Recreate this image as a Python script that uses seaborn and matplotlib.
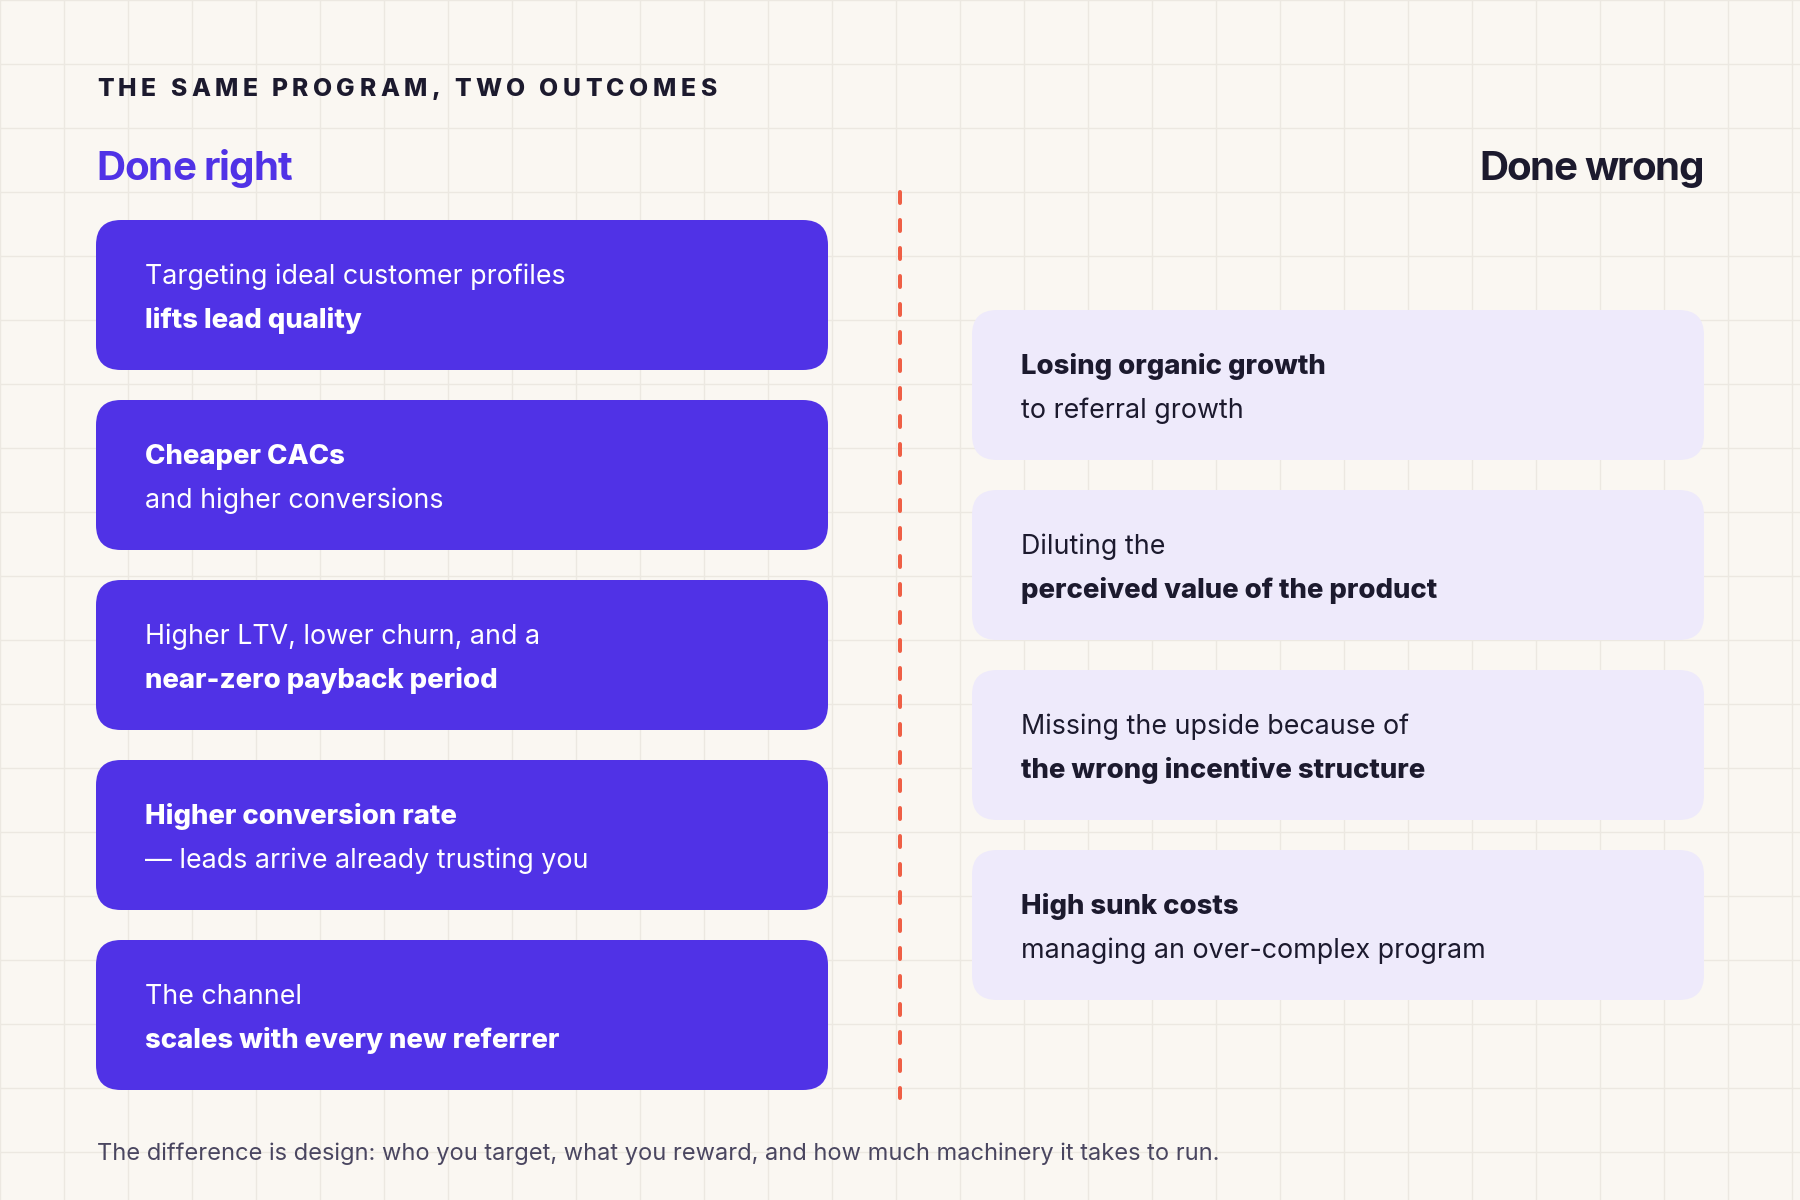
import numpy as np
import matplotlib
matplotlib.use("Agg")
import matplotlib.pyplot as plt
from matplotlib.patches import FancyBboxPatch
import seaborn as sns

# Conteúdo do quadro
titulo = "THE SAME PROGRAM, TWO OUTCOMES"
cab_esq = "Done right"
cab_dir = "Done wrong"
rodape = ("The difference is design: who you target, what you reward, "
          "and how much machinery it takes to run.")

# (linha 1, linha 2, qual linha em negrito)
certo_l1 = ["Targeting ideal customer profiles", "Cheaper CACs",
            "Higher LTV, lower churn, and a", "Higher conversion rate",
            "The channel"]
certo_l2 = ["lifts lead quality", "and higher conversions",
            "near-zero payback period", "\u2014 leads arrive already trusting you",
            "scales with every new referrer"]
certo_negrito = [2, 1, 2, 1, 2]

errado_l1 = ["Losing organic growth", "Diluting the",
             "Missing the upside because of", "High sunk costs"]
errado_l2 = ["to referral growth", "perceived value of the product",
             "the wrong incentive structure", "managing an over-complex program"]
errado_negrito = [1, 2, 2, 1]

# Cores
FUNDO = "#FAF7F2"
GRADE = "#ECE8E1"
ROXO = "#5032E6"
LILAS = "#EEEAFB"
ESCURO = "#1C1A2E"
CINZA = "#4A4660"
LARANJA = "#EF5F45"

sns.set_theme(style="whitegrid", rc={
    "axes.facecolor": FUNDO, "figure.facecolor": FUNDO,
    "grid.color": GRADE, "grid.linewidth": 1.0,
})
plt.rcParams["font.family"] = ["Inter", "DejaVu Sans"]

fig = plt.figure(figsize=(18, 12), dpi=100)
ax = fig.add_axes([0, 0, 1, 1])
ax.set_xlim(0, 1800)
ax.set_ylim(1200, 0)
ax.set_xticks(np.arange(0, 1801, 64))
ax.set_yticks(np.arange(0, 1201, 64))
ax.set_xticklabels([])
ax.set_yticklabels([])
ax.tick_params(length=0)
for s in ax.spines.values():
    s.set_visible(False)
ax.set_axisbelow(True)

renderer = fig.canvas.get_renderer()


def largura(s, **kw):
    t = ax.text(0, 0, s, **kw)
    w = t.get_window_extent(renderer).width
    t.remove()
    return w


def texto_espacado(x, y, s, largura_total, ha="left", **kw):
    # matplotlib não tem letter-spacing: posiciona letra a letra
    ref = largura("H", **kw)
    natural = largura(s, **kw)
    track = (largura_total - natural) / (len(s) - 1)
    if ha == "right":
        x = x - largura_total
    for i, ch in enumerate(s):
        w = largura(s[:i] + "H", **kw) - ref if i > 0 else 0
        ax.text(x + w + i * track, y, ch, ha="left", **kw)


# Título e cabeçalhos
texto_espacado(97, 95.5, titulo, 619, fontsize=17.8, fontweight="heavy",
               color=ESCURO, va="baseline")
texto_espacado(96, 180, cab_esq, 196, fontsize=29, fontweight="bold",
               color=ROXO, va="baseline")
texto_espacado(1704, 180, cab_dir, 225, ha="right", fontsize=29,
               fontweight="bold", color=ESCURO, va="baseline")

# Layout das caixas
LARG, ALT, PASSO, RAIO = 732, 150, 180, 25


def caixas(x0, y0, l1, l2, negrito, cor_caixa, cor_texto):
    for i, (a, b, n) in enumerate(zip(l1, l2, negrito)):
        top = y0 + i * PASSO
        ax.add_patch(FancyBboxPatch(
            (x0, top), LARG, ALT,
            boxstyle=f"round,pad=0,rounding_size={RAIO}",
            facecolor=cor_caixa, edgecolor="none", zorder=2))
        for j, linha in enumerate([a, b]):
            if n == j + 1:
                peso, tam = "heavy", 19.8
            else:
                peso, tam = "normal", 19.3
            ax.text(x0 + 49, top + 64 + j * 44, linha, fontsize=tam,
                    fontweight=peso, color=cor_texto, va="baseline",
                    ha="left", zorder=3)


caixas(96, 220, certo_l1, certo_l2, certo_negrito, ROXO, "white")
caixas(972, 310, errado_l1, errado_l2, errado_negrito, LILAS, ESCURO)

# Divisor tracejado
lw = 4 / (100 / 72)
ax.plot([900, 900], [192, 1098], color=LARANJA, linewidth=lw,
        dashes=(11 * 0.72 / lw, 17 * 0.72 / lw), dash_capstyle="round",
        zorder=2)

# Rodapé
ax.text(97, 1160, rodape, fontsize=17, color=CINZA, va="baseline", ha="left")

fig.savefig("out.png", dpi=100, facecolor=FUNDO)
